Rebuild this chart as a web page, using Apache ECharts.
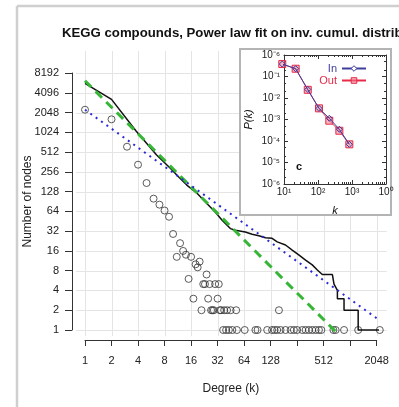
<!DOCTYPE html>
<html><head><meta charset="utf-8">
<script src="https://cdn.jsdelivr.net/npm/echarts@6/dist/echarts.min.js"></script>
<style>html,body{margin:0;padding:0;background:#fff;}#c{width:399px;height:407px;}</style>
</head><body><div id="c"></div>
<script>
const titleText = 'KEGG compounds, Power law fit on inv. cumul. distrib';
const xTickValues = [1,2,4,8,16,32,64,128,256,512,1024,2048];
const xLabelValues = [1,2,4,8,16,32,64,128,512,2048];
const yTickValues = [1,2,4,8,16,32,64,128,256,512,1024,2048,4096,8192];

// degree distribution (black circles): [degree, number of nodes]
const degreeCounts = [
  [1,2260],[2,1615],[3,618],[4,329],[5,173],[6,100],[7,81],[8,66],[9,53],[10,29],
  [11,13],[12,21],[13,16],[14,14],[15,6],[16,13],[17,3],[18,10],[19,9],[20,11],
  [22,5],[23,5],[24,7],[25,3],[26,5],[30,5],[32,3],[33,5],
  [21,2],[27,2],[28,2],[29,2],[34,2],[35,2],[38,2],[41,2],[45,2],[52,2],[159,2],
  [37,1],[40,1],[43,1],[47,1],[53,1],[65,1],[86,1],[91,1],[117,1],[133,1],[142,1],
  [152,1],[166,1],[189,1],[216,1],[235,1],[256,1],[293,1],[319,1],[348,1],[380,1],
  [415,1],[452,1],[482,1],[660,1],[700,1],[872,1],[1262,1],[2220,1]
];
// inverse cumulative distribution (black line)
const cumulative = [
  [1,5700],[2,3250],[3.8,1075],[6.5,462],[9.3,290],[11.5,216],[14.3,161],[18.7,121],
  [24,85],[30.2,62],[36,47],[44.7,35],[51,33],[66,31],[79,28.7],[94,27.3],[112,25.4],
  [133,24.9],[152,22],[189,19.7],[225,16.5],[267,13.9],[319,11.6],[380,9.8],[434,8.2],
  [494,7],[643,7],[671,5],[733,4],[733,3],[872,3],[872,2],[1262,2],[1262,1],[2220,1]
];
// power law fit (green dashed) and second fit (blue dotted)
const powerLawFit = [[1,6250],[733,0.89]];
const blueFit = [[1,2260],[2048,1.51]];

// inset
const insetK = [8.9,22,50,107,215,425,835];
const insetIn = [0.38,0.23,0.025,0.0033,0.00114,0.00035,0.00007];
const insetOut = [0.38,0.23,0.024,0.0033,0.00088,0.0003,0.00007];
const insetXLabels = ['10\u00b9','10\u00b2','10\u00b3','10\u2070'];
const insetYLabels = ['10\u207b\u2076','10\u207b\u2075','10\u207b\u2074','10\u207b\u00b3','10\u207b\u00b2','10\u207b\u00b9','10\u207b\u2076'];
const insetXMinor = [20,30,40,50,60,70,80,90,200,300,400,500,600,700,800,900,2000,3000,4000,5000,6000,7000,8000,9000];
const insetYMinor = [2e-6,5e-6,2e-5,5e-5,2e-4,5e-4,2e-3,5e-3,2e-2,5e-2,0.2,0.5];

const FONT = 'Liberation Sans, Arial, Helvetica, sans-serif';
const chart = echarts.init(document.getElementById('c'));

const zip = (a, b) => a.map((v, i) => [v, b[i]]);
const plain = v => String(v);

const insetAxisBase = (extra) => Object.assign({
  axisLine: { lineStyle: { color: '#333', width: 1 } },
  axisTick: { inside: true, length: 4, lineStyle: { color: '#333' } },
  axisLabel: { show: false }, splitLine: { show: false }, z: 11
}, extra);
const minorAxis = (type, extra, values) => Object.assign({
  type: 'log', logBase: 10, gridIndex: 1, z: 11,
  axisLine: { show: false },
  axisTick: { show: true, inside: true, length: 2, customValues: values, lineStyle: { color: '#333' } },
  axisLabel: { show: false }, splitLine: { show: false }
}, extra);

const option = {
  animation: false,
  textStyle: { fontFamily: FONT },
  title: {
    text: titleText, left: 62, top: 27, padding: 0,
    textStyle: { fontSize: 13.2, fontWeight: 'bold', color: '#111', fontFamily: FONT }
  },
  legend: {
    data: [
      { name: 'In', textStyle: { color: '#3d3d9e' }, itemStyle: { color: '#fff', borderColor: '#3d3d9e', borderWidth: 1 } },
      { name: 'Out', textStyle: { color: '#e62a48' }, itemStyle: { color: 'rgba(240,120,140,0.55)', borderColor: '#e62a48', borderWidth: 1 } }
    ],
    orient: 'vertical', align: 'right', right: 27, top: 58,
    itemWidth: 24, itemHeight: 7, itemGap: 1, z: 12,
    textStyle: { fontSize: 11, lineHeight: 10, padding: [0, 0, 0, 0], fontFamily: FONT }
  },
  grid: [
    { left: 85, right: 22.3, top: 73, bottom: 77 },
    { left: 284, right: 13, top: 55, bottom: 223 }
  ],
  xAxis: [
    {
      type: 'log', logBase: 2, min: 1, max: 2048, gridIndex: 0, offset: 10,
      name: 'Degree (k)', nameLocation: 'middle', nameGap: 43, nameMoveOverlap: false,
      nameTextStyle: { fontSize: 12, color: '#222', fontFamily: FONT },
      axisLine: { show: true, lineStyle: { color: '#333', width: 1 } },
      axisTick: { show: true, length: 6, customValues: xTickValues, lineStyle: { color: '#333' } },
      axisLabel: { show: true, customValues: xLabelValues, fontSize: 11, color: '#222', margin: 15, formatter: plain },
      splitLine: { show: false }
    },
    insetAxisBase({
      type: 'log', logBase: 10, min: 10, max: 10000, gridIndex: 1, position: 'bottom',
      name: 'k', nameLocation: 'middle', nameGap: 21,
      nameTextStyle: { fontSize: 11, fontStyle: 'italic', color: '#111', fontFamily: FONT },
      axisLabel: { show: true, fontSize: 10, color: '#222', margin: 3, formatter: (v, i) => insetXLabels[i] }
    }),
    insetAxisBase({ type: 'log', logBase: 10, min: 10, max: 10000, gridIndex: 1, position: 'top' }),
    minorAxis('x', { min: 10, max: 10000, position: 'bottom' }, insetXMinor),
    minorAxis('x', { min: 10, max: 10000, position: 'top' }, insetXMinor)
  ],
  yAxis: [
    {
      type: 'log', logBase: 2, min: 1, max: 8192, gridIndex: 0, offset: 13,
      name: 'Number of nodes', nameLocation: 'middle', nameGap: 38, nameMoveOverlap: false,
      nameTextStyle: { fontSize: 12, color: '#222', fontFamily: FONT },
      axisLine: { show: true, lineStyle: { color: '#333', width: 1 } },
      axisTick: { show: true, length: 7, customValues: yTickValues, lineStyle: { color: '#333' } },
      axisLabel: { show: true, customValues: yTickValues, fontSize: 11, color: '#222', margin: 13, formatter: plain },
      splitLine: { show: false }
    },
    insetAxisBase({
      type: 'log', logBase: 10, min: 1e-6, max: 1, gridIndex: 1, position: 'left',
      name: 'P(k)', nameLocation: 'middle', nameGap: 30,
      nameTextStyle: { fontSize: 11, fontStyle: 'italic', color: '#111', fontFamily: FONT },
      axisLabel: { show: true, fontSize: 10, color: '#222', margin: 4, formatter: (v, i) => insetYLabels[i] }
    }),
    insetAxisBase({ type: 'log', logBase: 10, min: 1e-6, max: 1, gridIndex: 1, position: 'right' }),
    minorAxis('y', { min: 1e-6, max: 1, position: 'left' }, insetYMinor),
    minorAxis('y', { min: 1e-6, max: 1, position: 'right' }, insetYMinor)
  ],
  series: [
    {
      name: 'degree', type: 'scatter', xAxisIndex: 0, yAxisIndex: 0, data: degreeCounts,
      symbol: 'circle', symbolSize: 7, clip: false, z: 2,
      itemStyle: { color: 'rgba(0,0,0,0)', borderColor: '#333', borderWidth: 1 }
    },
    {
      name: 'cumulative', type: 'line', xAxisIndex: 0, yAxisIndex: 0, data: cumulative,
      showSymbol: false, clip: false, z: 3,
      lineStyle: { color: '#111', width: 1.5 }
    },
    {
      name: 'fit', type: 'line', xAxisIndex: 0, yAxisIndex: 0, data: powerLawFit,
      showSymbol: false, clip: false, z: 4,
      lineStyle: { color: '#36b536', width: 3, type: [9, 6] }
    },
    {
      name: 'fit2', type: 'line', xAxisIndex: 0, yAxisIndex: 0, data: blueFit,
      showSymbol: false, clip: false, z: 5,
      lineStyle: { color: '#2a2ad8', width: 2, type: [2, 4.6] }
    },
    {
      name: 'Out', type: 'line', xAxisIndex: 1, yAxisIndex: 1, data: zip(insetK, insetOut),
      symbol: 'rect', symbolSize: 7, z: 12, clip: false,
      lineStyle: { color: '#e62a48', width: 1 },
      itemStyle: { color: 'rgba(240,120,140,0.55)', borderColor: '#e62a48', borderWidth: 1 }
    },
    {
      name: 'In', type: 'line', xAxisIndex: 1, yAxisIndex: 1, data: zip(insetK, insetIn),
      symbol: 'diamond', symbolSize: 6, z: 13, clip: false,
      lineStyle: { color: '#3d3d9e', width: 1 },
      itemStyle: { color: 'rgba(255,255,255,0)', borderColor: '#3d3d9e', borderWidth: 1 }
    }
  ]
};
chart.setOption(option);

// background frame, grid lines, inset panel
const els = [];
els.push({ type: 'line', z: 0, shape: { x1: 17, y1: 6, x2: 17, y2: 407 }, style: { stroke: '#cfcfcf', lineWidth: 2.5 } });
els.push({ type: 'line', z: 0, shape: { x1: 17, y1: 6, x2: 399, y2: 6 }, style: { stroke: '#cfcfcf', lineWidth: 2.5 } });
const yTop = chart.convertToPixel({ yAxisIndex: 0 }, 8192) - 22;
const yBot = chart.convertToPixel({ yAxisIndex: 0 }, 1) + 6;
const xLeft = chart.convertToPixel({ xAxisIndex: 0 }, 1) - 9;
const xRight = chart.convertToPixel({ xAxisIndex: 0 }, 2048) + 10;
xTickValues.forEach(v => {
  const x = Math.round(chart.convertToPixel({ xAxisIndex: 0 }, v)) + 0.5;
  els.push({ type: 'line', z: -1, silent: true, shape: { x1: x, y1: yTop, x2: x, y2: yBot }, style: { stroke: '#e4e4e4', lineWidth: 1 } });
});
yTickValues.forEach(v => {
  const y = Math.round(chart.convertToPixel({ yAxisIndex: 0 }, v)) + 0.5;
  els.push({ type: 'line', z: -1, silent: true, shape: { x1: xLeft, y1: y, x2: xRight, y2: y }, style: { stroke: '#e4e4e4', lineWidth: 1 } });
});
els.push({ type: 'rect', z: 10, shape: { x: 240, y: 49, width: 151, height: 166 }, style: { fill: '#fff', stroke: '#b4b4b4', lineWidth: 2 } });
els.push({ type: 'text', z: 12, x: 296, y: 161, style: { text: 'c', font: 'bold 11px ' + FONT, fill: '#111' } });
chart.setOption({ graphic: { elements: els } });
</script></body></html>
